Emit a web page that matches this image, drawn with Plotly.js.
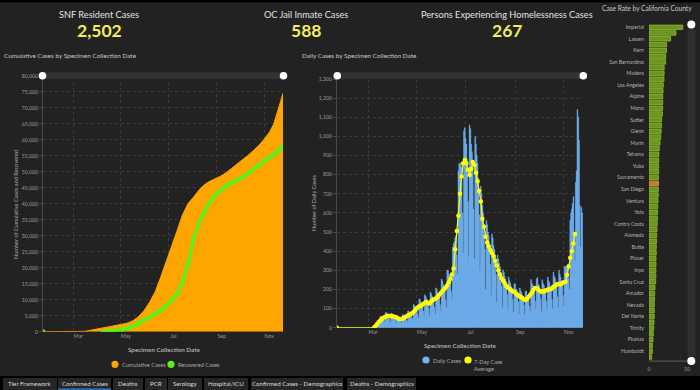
<!DOCTYPE html>
<html><head><meta charset="utf-8">
<script src="https://cdn.plot.ly/plotly-3.0.1.min.js"></script>
<style>html,body{margin:0;padding:0;background:#222;overflow:hidden}#chart{width:700px;height:390px}</style>
</head><body><div id="chart"></div>
<script>
// ---------- DATA ----------
const kpiLabels = ['SNF Resident Cases', 'OC Jail Inmate Cases', 'Persons Experiencing Homelessness Cases'];
const kpiValues = ['2,502', '588', '267'];

// Cumulative cases (Orange County) by specimen collection date
const cumDates = ['2020-01-22','2020-03-08','2020-03-15','2020-03-22','2020-03-29','2020-04-05','2020-04-12','2020-04-19','2020-04-26','2020-05-03','2020-05-10','2020-05-17','2020-05-24','2020-05-31','2020-06-07','2020-06-14','2020-06-21','2020-06-28','2020-07-05','2020-07-12','2020-07-19','2020-07-26','2020-08-02','2020-08-09','2020-08-16','2020-08-23','2020-08-30','2020-09-06','2020-09-13','2020-09-20','2020-09-27','2020-10-04','2020-10-11','2020-10-18','2020-10-25','2020-11-01','2020-11-08','2020-11-13','2020-11-16','2020-11-19','2020-11-22','2020-11-25'];
const cumCases = [0,0,100,400,700,1100,1450,1750,2050,2350,2750,3500,4800,6700,9300,12500,17000,21700,26500,31500,36500,40000,42000,44200,45900,47000,47800,48600,49700,51000,52300,53700,55100,56600,58200,60200,62500,64800,67000,69300,72000,74500];

// Recovered cases (null = no value reported)
const recDates = ['2020-01-22','2020-03-01','2020-04-08','2020-04-19','2020-05-03','2020-05-10','2020-05-17','2020-05-24','2020-05-31','2020-06-07','2020-06-14','2020-06-21','2020-06-28','2020-07-05','2020-07-12','2020-07-19','2020-07-26','2020-08-02','2020-08-09','2020-08-16','2020-08-23','2020-08-30','2020-09-06','2020-09-13','2020-09-20','2020-09-27','2020-10-04','2020-10-11','2020-10-18','2020-10-25','2020-11-01','2020-11-08','2020-11-15','2020-11-20','2020-11-25'];
const recCases = [0,null,0,250,700,1150,1700,2700,3700,4600,5600,6700,8000,9800,11800,15500,21000,28700,33800,37400,40500,42700,44300,45500,46600,47400,48200,49400,50800,52000,53400,54500,55600,56800,58000];

// Daily cases, one value per day starting 2020-03-08 (weeks Sun..Sat)
const dailyStart = '2020-03-08';
const dailyCases = [
  1,4,8,14,20,26,22,
  22,58,60,55,58,56,40,
  28,80,78,70,68,62,46,
  27,77,74,68,65,59,44,
  22,62,60,55,53,48,36,
  23,68,65,60,57,52,39,
  31,88,85,78,75,68,51,
  42,121,116,107,102,93,70,
  52,151,145,133,128,116,87,
  59,172,165,152,145,132,99,
  64,185,178,163,156,142,107,
  72,208,200,184,176,160,120,
  88,254,244,224,215,195,146,
  105,300,300,280,275,255,190,
  150,420,440,450,470,480,380,
  280,820,860,850,860,840,600,
  390,1030,1045,990,960,880,660,
  370,1060,1040,960,920,840,620,
  360,1000,960,900,860,780,590,
  300,740,700,640,600,540,410,
  200,560,540,500,480,440,330,
  170,490,470,430,410,375,280,
  130,380,360,335,320,290,218,
  104,302,290,267,255,232,174,
  90,265,245,232,215,205,148,
  81,230,228,202,198,184,135,
  71,208,195,185,170,160,118,
  68,190,192,168,170,146,112,
  86,252,232,224,205,195,140,
  92,255,262,226,222,196,150,
  84,250,232,222,205,192,140,
  92,264,246,236,214,204,148,
  99,290,270,258,238,224,162,
  104,300,280,265,246,230,168,
  110,320,320,310,320,330,260,
  200,560,600,620,650,685,500,
  350,760,820,1140,1100,980,640,
  420,630,600,420
];

// 7-day case average: first point, then every 2 days from 2020-03-08
const avgFirstDate = '2020-01-22';
const avgStart = '2020-03-08';
const avgStepDays = 2;
const avgCases = [0,
  0,8,18,28,36,45,52,56,60,62,
  61,60,59,57,54,50,46,45,47,52,
  57,62,66,70,76,84,93,102,110,114,
  118,124,130,134,128,126,138,145,150,152,
  160,172,182,190,200,210,222,238,255,278,
  310,410,505,585,700,790,860,876,860,825,
  798,830,866,850,810,765,715,660,570,528,
  475,445,425,405,390,375,350,325,300,278,
  258,245,232,218,210,203,196,190,186,180,
  172,165,160,155,148,145,150,162,172,184,
  198,208,206,200,192,188,188,192,196,200,
  200,202,210,216,222,228,228,226,232,238,
  240,275,320,365,400,440,490];

// Case rate by California county (sorted, Orange County highlighted)
const counties = ['Imperial','Kings','Lassen','Tulare','Kern','Riverside','San Bernardino','Merced','Madera','Stanislaus','Los Angeles','Fresno','Alpine','San Joaquin','Mono','Colusa','Sutter','Monterey','Glenn','Lake','Marin','San Benito','Tehama','Solano','Yuba','Santa Barbara','Sacramento','Orange','San Diego','Napa','Ventura','Shasta','Yolo','Sonoma','Contra Costa','Santa Clara','Alameda','San Luis Obispo','Butte','San Mateo','Placer','Siskiyou','Inyo','Mendocino','Santa Cruz','San Francisco','Amador','Calaveras','Nevada','El Dorado','Del Norte','Tuolumne','Trinity','Mariposa','Plumas','Modoc','Humboldt','Sierra'];
const caseRates = [8.87,7.1,5.7,4.65,4.62,4.4,4.38,4.0,3.98,3.95,3.77,3.7,3.62,3.6,3.58,3.55,3.3,3.28,3.2,3.1,2.9,2.7,2.6,2.56,2.55,2.53,2.5,2.5,2.45,2.44,2.37,2.3,2.26,2.22,2.17,2.1,2.02,2.0,1.92,1.9,1.84,1.83,1.82,1.8,1.75,1.58,1.5,1.45,1.4,1.39,1.38,1.3,1.23,1.15,1.05,0.9,0.88,0.7];
const highlightCounty = 'Orange';

const tabs = ['Tier Framework','Confirmed Cases','Deaths','PCR','Serology','Hospital/ICU','Confirmed Cases - Demographics','Deaths - Demographics'];
const activeTab = 'Confirmed Cases';

// ---------- HELPERS ----------
const W = 700, H = 390;
const px = x => x / W, py = y => 1 - y / H;
const FONT = 'Lato, "Open Sans", sans-serif';
function addDays(s, n) {
  const d = new Date(s + 'T00:00:00Z'); d.setUTCDate(d.getUTCDate() + n);
  return d.toISOString().slice(0, 10);
}
const dailyDates = dailyCases.map((_, i) => addDays(dailyStart, i));
const avgDates = avgCases.map((_, i) => i === 0 ? avgFirstDate : addDays(avgStart, (i - 1) * avgStepDays));

function rect(x0, y0, x1, y1, color, layer) {
  return {type:'rect', xref:'paper', yref:'paper', x0:px(x0), x1:px(x1), y0:py(y1), y1:py(y0),
    fillcolor:color, line:{width:0}, layer: layer || 'below'};
}
function circ(cx, cy, r, color) {
  return {type:'circle', xref:'paper', yref:'paper', x0:px(cx - r), x1:px(cx + r), y0:py(cy + r), y1:py(cy - r),
    fillcolor:color, line:{width:0}, layer:'above'};
}
function txt(x, y, t, size, color, xa, ya, extra) {
  return Object.assign({xref:'paper', yref:'paper', x:px(x), y:py(y), text:t, showarrow:false,
    xanchor:xa || 'center', yanchor:ya || 'middle', borderpad:0,
    font:{family:FONT, size:size, color:color}}, extra || {});
}

// ---------- TRACES ----------
const BLUE = '#72b3f3';
const traces = [
  {type:'scatter', x:cumDates, y:cumCases, mode:'lines', fill:'tozeroy', fillcolor:'#ffa500',
   line:{color:'#ffa500', width:1}, xaxis:'x', yaxis:'y', hoverinfo:'skip'},
  {type:'scatter', x:recDates, y:recCases, mode:'lines+markers', connectgaps:false,
   line:{color:'#5ef01e', width:3.5}, marker:{color:'#5ef01e', size:5}, xaxis:'x', yaxis:'y'},
  {type:'bar', x:dailyDates, y:dailyCases, width:86400000, marker:{color:BLUE, line:{color:BLUE, width:0.45}},
   xaxis:'x2', yaxis:'y2'},
  {type:'scatter', x:avgDates, y:avgCases, mode:'lines+markers',
   line:{color:'#ffff00', width:1.2}, marker:{color:'#ffff00', size:4.5}, xaxis:'x2', yaxis:'y2'},
  {type:'bar', orientation:'h', y:counties, x:caseRates, width:0.78,
   marker:{color:counties.map(c => c === highlightCounty ? '#c27a2c' : '#6b951f'),
           line:{color:counties.map(c => c === highlightCounty ? '#e29a3c' : '#8fbd2e'), width:0.8}},
   xaxis:'x3', yaxis:'y3'}
];

// ---------- LAYOUT ----------
const tickFont = {family:FONT, size:5.2, color:'#9a9a9a'};
const grid = {showgrid:true, gridcolor:'#3b3b3b', griddash:'dot', gridwidth:1};
const dateAxis = (l, r, anchor) => Object.assign({
  domain:[px(l), px(r)], anchor:anchor, type:'date', range:['2020-01-22','2020-11-25'],
  tick0:'2020-03-01', dtick:'M2', tickformat:'%b', ticklabelshift:5,
  tickfont:tickFont, ticks:'', showline:false, zeroline:false, fixedrange:true
}, grid);

const shapes = [
  rect(0, 0, 700, 2.5, '#000', 'above'),
  // sliders
  rect(42, 72.3, 284, 79.3, '#333'), rect(337, 72.3, 583, 79.3, '#333'),
  circ(42.5, 75.8, 3.8, '#fff'), circ(283.5, 75.8, 3.8, '#fff'),
  circ(337.3, 75.8, 3.8, '#fff'), circ(583.3, 75.8, 3.8, '#fff'),
  // county scrollbars
  rect(687.5, 22, 695.5, 358, '#2f2f2f'),
  rect(649, 360.2, 690, 362, '#444'),
  circ(691.3, 24.5, 4, '#fff'), circ(691.3, 361, 4, '#fff'),
  // legends
  circ(115, 364.3, 3.6, '#ffa500'), circ(171, 364.3, 3.6, '#5ef01e'),
  circ(426, 360, 3.6, BLUE), circ(468, 360, 3.6, '#ffff00'),
  // tab bar
  rect(0, 376, 700, 390, '#000', 'above')
];
const tabPos = [[3,57],[58,111],[113,143],[145,167],[168,202],[204,248],[251,343],[347,416]];
tabs.forEach((t, i) => {
  shapes.push(rect(tabPos[i][0], 378, tabPos[i][1], 390, '#262626', 'above'));
  if (t === activeTab) shapes.push(rect(tabPos[i][0], 388.3, tabPos[i][1], 390, '#2a6cab', 'above'));
});

const annotations = [];
const kpiX = [99, 306, 507];
kpiLabels.forEach((l, i) => {
  annotations.push(txt(kpiX[i], 15, l, 9.2, '#e2e2e2'));
  annotations.push(txt(kpiX[i], 31, '<b>' + kpiValues[i] + '</b>', 17.5, '#f3ec5c'));
});
annotations.push(
  txt(3, 56, 'Cumulative Cases by Specimen Collection Date', 6.4, '#c8c8c8', 'left'),
  txt(301, 56, 'Daily Cases by Specimen Collection Date', 6.4, '#c8c8c8', 'left'),
  txt(601, 8.3, 'Case Rate by California County', 6.6, '#c8c8c8', 'left'),
  txt(15, 205, 'Number of Cumulative Cases and Recovered', 5.6, '#a8a8a8', 'center', 'middle', {textangle:-90}),
  txt(313, 203, 'Number of Daily Cases', 5.6, '#a8a8a8', 'center', 'middle', {textangle:-90}),
  txt(163.5, 349, 'Specimen Collection Date', 6.3, '#b8b8b8', 'center', 'middle', {font:{family:FONT, size:6.3, color:'#b8b8b8', weight:600}}),
  txt(460, 345, 'Specimen Collection Date', 6.3, '#b8b8b8', 'center', 'middle', {font:{family:FONT, size:6.3, color:'#b8b8b8', weight:600}}),
  txt(121, 364.3, 'Cumulative Cases', 5.6, '#a8a8a8', 'left'),
  txt(176.5, 364.3, 'Recovered Cases', 5.6, '#a8a8a8', 'left'),
  txt(432, 360, 'Daily Cases', 5.6, '#a8a8a8', 'left'),
  txt(473, 357, '7-Day Case<br>Average', 5.6, '#a8a8a8', 'left', 'top', {align:'left'})
);
tabs.forEach((t, i) => annotations.push(txt((tabPos[i][0] + tabPos[i][1]) / 2, 383.8, t, 6.2, '#dcdcdc')));

const layout = {
  width:W, height:H, margin:{l:0, r:0, t:0, b:0}, paper_bgcolor:'#222', plot_bgcolor:'rgba(0,0,0,0)',
  showlegend:false, font:{family:FONT},
  xaxis: dateAxis(43, 283, 'y'),
  yaxis: Object.assign({domain:[py(331.7), py(75.7)], anchor:'x', range:[0, 80000], dtick:5000, tickformat:',',
    tickfont:tickFont, ticks:'outside', ticklen:3, tickcolor:'#4a4a4a', showline:true, linecolor:'#4a4a4a',
    zeroline:false, fixedrange:true}, grid),
  xaxis2: dateAxis(337, 583, 'y2'),
  yaxis2: Object.assign({domain:[py(327.7), py(79)], anchor:'x2', range:[0, 1300], dtick:100, tickformat:',',
    tickfont:tickFont, ticks:'outside', ticklen:3, tickcolor:'#4a4a4a', showline:true, linecolor:'#4a4a4a',
    zeroline:false, fixedrange:true}, grid),
  xaxis3: {domain:[px(649), px(687)], anchor:'y3', range:[0, 10], tickvals:[0, 10], tickfont:tickFont,
    ticks:'outside', ticklen:4, tickcolor:'rgba(0,0,0,0)', showgrid:true, gridcolor:'#3b3b3b', griddash:'dot',
    zeroline:false, showline:false, fixedrange:true},
  yaxis3: {domain:[py(359.9), py(24.3)], anchor:'x3', type:'category', categoryorder:'array', categoryarray:counties,
    range:[counties.length - 0.5, -0.5], tickvals:counties.filter((_, i) => i % 2 === 0),
    tickfont:{family:FONT, size:5.2, color:'#b4b4b4'}, ticks:'outside', ticklen:3, tickcolor:'rgba(0,0,0,0)',
    showgrid:false, showline:false, zeroline:false, fixedrange:true},
  shapes: shapes,
  annotations: annotations
};

Plotly.newPlot('chart', traces, layout, {staticPlot:true, displayModeBar:false});
</script></body></html>
